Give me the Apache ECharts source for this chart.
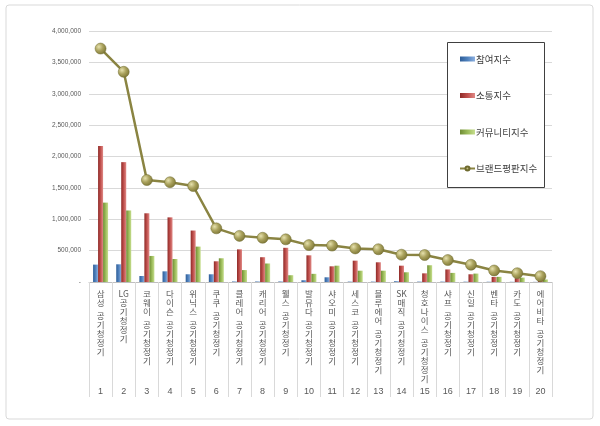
<!DOCTYPE html>
<html>
<head>
<meta charset="utf-8">
<script src="https://cdn.jsdelivr.net/npm/echarts@6/dist/echarts.min.js"></script>
<style>
html,body{margin:0;padding:0;background:#fff;}
#main{width:600px;height:426px;}
</style>
</head>
<body>
<div id="main"></div>
<script>
const categories = ['삼성 공기청정기','LG 공기청정기','코웨이 공기청정기','다이슨 공기청정기','위닉스 공기청정기','쿠쿠 공기청정기','클레어 공기청정기','캐리어 공기청정기','웰스 공기청정기','발뮤다 공기청정기','샤오미 공기청정기','세스코 공기청정기','블루에어 공기청정기','SK매직 공기청정기','청호나이스 공기청정기','샤프 공기청정기','신일 공기청정기','벤타 공기청정기','카도 공기청정기','에어비타 공기청정기'];
const ranks = ['1','2','3','4','5','6','7','8','9','10','11','12','13','14','15','16','17','18','19','20'];
const participation = [277000,282000,96000,170000,123000,123000,8000,8000,8000,28000,75000,6000,6000,12000,6000,6000,5000,4000,3000,2000];
const communication = [2167000,1910000,1095000,1030000,820000,330000,520000,395000,545000,425000,250000,340000,314000,260000,138000,200000,123000,80000,60000,35000];
const community = [1265000,1140000,415000,367000,564000,378000,190000,295000,108000,130000,260000,180000,180000,155000,267000,145000,134000,82000,70000,40000];
const reputation = [3720000,3350000,1625000,1590000,1530000,855000,735000,705000,680000,588000,580000,535000,522000,435000,430000,350000,275000,183000,140000,93000];
const seriesNames = ['참여지수','소통지수','커뮤니티지수','브랜드평판지수'];
const yTicks = {min:0, max:4000000, interval:500000};

function verticalLabel(s){
  const toks = s.match(/[A-Za-z]+|./g);
  const out = [];
  for (let i=0;i<toks.length;i++){
    const t = toks[i];
    if (t === ' ') {
      if (i>0 && /^[A-Za-z]+$/.test(toks[i-1])) continue;
      out.push('{sp| }');
      continue;
    }
    out.push('{c|' + t + '}');
  }
  return out.join('\n');
}
function grad(c1,c2,c3){
  return new echarts.graphic.LinearGradient(0,0,1,0,[{offset:0,color:c1},{offset:0.5,color:c2},{offset:1,color:c3}]);
}
const blueG = grad('#2e5e99','#4f81bd','#8db0e0');
const redG = grad('#8e2a27','#c0504d','#e08a87');
const greenG = grad('#6f8c35','#9bbb59','#c6de8e');
const markerG = new echarts.graphic.RadialGradient(0.35,0.35,0.7,[{offset:0,color:'#e6e1ad'},{offset:0.5,color:'#a9a15c'},{offset:1,color:'#7d7636'}]);

const chart = echarts.init(document.getElementById('main'));
const option = {
  backgroundColor:'#fff',
  animation:false,
  graphic:[
    {type:'rect', shape:{x:6,y:5,width:587,height:414,r:3}, style:{fill:'none',stroke:'#d9d9d9',lineWidth:1}, z:-1},
    {type:'rect', shape:{x:447.5,y:42.5,width:97,height:145}, style:{fill:'#fff',stroke:'#404040',lineWidth:1}, z:5}
  ],
  legend:{
    orient:'vertical', left:459, top:53, itemGap:24.5, itemWidth:15, itemHeight:5,
    padding:0, z:10,
    textStyle:{fontSize:9.5, lineHeight:12, color:'#404040', fontFamily:'Noto Sans CJK KR', padding:[0,0,0,-4]},
    data:[
      {name:seriesNames[0], icon:'rect', itemStyle:{color:blueG}},
      {name:seriesNames[1], icon:'rect', itemStyle:{color:redG}},
      {name:seriesNames[2], icon:'rect', itemStyle:{color:greenG}},
      {name:seriesNames[3]}
    ]
  },
  grid:{left:89, right:48, top:31, bottom:144, containLabel:false},
  xAxis:[
    {type:'category', data:categories, position:'bottom',
     axisLine:{lineStyle:{color:'#bfbfbf'}},
     axisTick:{show:true, length:115, lineStyle:{color:'#d9d9d9'}},
     axisLabel:{interval:0, margin:7, color:'#595959', fontFamily:'Noto Sans CJK KR', verticalAlign:'top', formatter:verticalLabel,
       rich:{
         c:{fontSize:8.5, lineHeight:9, color:'#595959', fontFamily:'Noto Sans CJK KR'},
         sp:{fontSize:4, lineHeight:4}
       }}
    },
    {type:'category', data:ranks, position:'bottom', offset:105,
     axisLine:{show:false}, axisTick:{show:false},
     axisLabel:{interval:0, margin:0, fontSize:9, color:'#595959', fontFamily:'Liberation Sans'}
    }
  ],
  yAxis:{type:'value', min:yTicks.min, max:yTicks.max, interval:yTicks.interval,
    axisLine:{show:false}, axisTick:{show:false},
    splitLine:{lineStyle:{color:'#d9d9d9'}},
    axisLabel:{fontSize:6.5, color:'#595959', margin:8, fontFamily:'Liberation Sans',
      formatter:function(v){return v===0?'-':v.toLocaleString('en-US');}}
  },
  series:[
    {name:seriesNames[0], type:'bar', data:participation, barWidth:5, barGap:'0%', itemStyle:{color:blueG}},
    {name:seriesNames[1], type:'bar', data:communication, barWidth:5, barGap:'0%', itemStyle:{color:redG}},
    {name:seriesNames[2], type:'bar', data:community, barWidth:5, barGap:'0%', itemStyle:{color:greenG}},
    {name:seriesNames[3], type:'line', data:reputation, symbol:'circle', symbolSize:11, z:5,
     lineStyle:{color:'#8a8442', width:2.5},
     itemStyle:{color:markerG, borderColor:'#6e6a2e', borderWidth:0.5}}
  ]
};
chart.setOption(option);
</script>
</body>
</html>
